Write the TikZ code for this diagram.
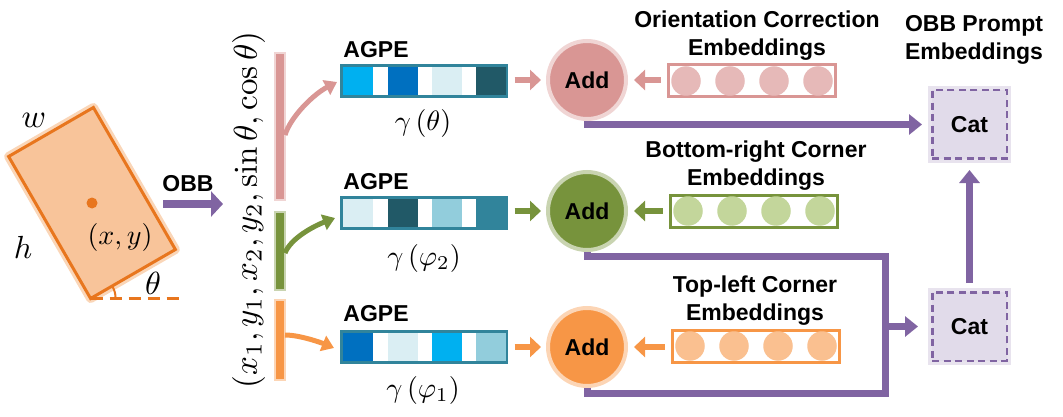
\documentclass[tikz,border=0pt]{standalone}
\usepackage{graphicx}
\usepackage[no-math]{fontspec}
\setmainfont{Liberation Sans}
\usetikzlibrary{arrows.meta}
\definecolor{pk}{HTML}{D99694}
\definecolor{pkl}{HTML}{E6B9B8}
\definecolor{gr}{HTML}{77933C}
\definecolor{grl}{HTML}{C3D69B}
\definecolor{orr}{HTML}{F79646}
\definecolor{orl}{HTML}{FAC090}
\definecolor{pu}{HTML}{8064A2}
\definecolor{pul}{HTML}{E1DBEA}
\definecolor{boxo}{HTML}{E8761E}
\definecolor{boxf}{HTML}{F8C49A}
\definecolor{ca}{HTML}{00B0F0}
\definecolor{cb}{HTML}{0070C0}
\definecolor{cc}{HTML}{DAEEF3}
\definecolor{cd}{HTML}{215967}
\definecolor{ce}{HTML}{92CDDC}
\definecolor{cf}{HTML}{31849B}
\begin{document}
\begin{tikzpicture}[x=1pt,y=-1pt,
  lbl/.style={font=\fontsize{23}{28}\selectfont\bfseries, align=center, inner sep=0pt},
  mlbl/.style={inner sep=0pt, font=\fontsize{10}{12}\selectfont},
  addnode/.style={circle, fill=#1, draw=#1!40, line width=4pt, minimum size=78pt, inner sep=0pt, font=\fontsize{23}{25}\selectfont\bfseries},
  catnode/.style={draw=pu, dash pattern=on 7pt off 4.5pt, line width=2.5pt, fill=pul,
     preaction={draw=pu!18, line width=8pt, solid},
     minimum width=74.5pt, minimum height=68.5pt, inner sep=0pt, font=\fontsize{23}{25}\selectfont\bfseries},
  agpe/.style={draw=cf, fill=white, line width=3pt, minimum width=165pt, minimum height=31pt, inner sep=0pt},
  cell/.style={fill=#1, minimum width=30pt, minimum height=27.5pt, inner sep=0pt},
  embbox/.style={draw=#1, fill=white, line width=3pt, minimum width=167pt, minimum height=32pt, inner sep=0pt},
  dotc/.style={circle, fill=#1, minimum size=29.5pt, inner sep=0pt},
  bar/.style={fill=#1, draw=#1!40, line width=2.5pt, minimum width=10pt, inner sep=0pt},
  pline/.style={line width=7pt, draw=pu, line join=miter},
  parr/.style={line width=7pt, draw=pu, -{Triangle[length=13pt,width=20pt]}},
  sarr/.style={line width=6pt, draw=#1, -{Triangle[length=11pt,width=20pt]}},
  carr/.style={line width=5pt, draw=#1, -{Triangle[length=12pt,width=16pt]}}
]
\useasboundingbox (0,0) rectangle (1063,417);

% oriented box
\draw[boxf!70, line width=9pt, line join=round] (8.6,156.5) -- (93.4,107.5) -- (175.4,249.5) -- (90.6,298.5) -- cycle;
\filldraw[fill=boxf, draw=boxo, line width=3pt, line join=miter] (8.6,156.5) -- (93.4,107.5) -- (175.4,249.5) -- (90.6,298.5) -- cycle;
\coordinate (rb) at (90.6,298.5);
\coordinate (re) at (180,298.5);
\draw[boxo, line width=2.5pt, dash pattern=on 12pt off 7pt] (rb) -- (re);
\draw[boxo, line width=2pt] (115.6,298.5) .. controls (115.6,294.1) and (114.45,289.8) .. (112.25,286);
\node[circle, fill=boxo, minimum size=11pt, inner sep=0pt] (ctr) at (92,203) {};
\node[mlbl] (lw) at (34,120) {\scalebox{3.3}{$w$}};
\node[mlbl] (lh) at (23,247) {\scalebox{3.2}{$h$}};
\node[mlbl] (lt) at (153,283) {\scalebox{3.2}{$\theta$}};
\node[mlbl] (lxy) at (120,237) {\scalebox{2.8}{$(x,y)$}};

% OBB arrow
\node[lbl] (obbl) at (188,183.5) {OBB};
\coordinate (obbs) at (163,204);
\coordinate (obbe) at (223,204);
\draw[line width=8pt, pu, -{Triangle[length=12pt,width=25pt]}] (obbs) -- (obbe);

% tuple
\node[mlbl, rotate=90] (tup) at (248.5,210)
  {\scalebox{3.3}{$\left(x_1, y_1, x_2, y_2, \sin\theta, \cos\theta\right)$}};

% bars
\node[bar=pk, minimum height=147pt] (barP) at (280,126.5) {};
\node[bar=gr, minimum height=78pt] (barG) at (280,251) {};
\node[bar=orr, minimum height=80pt] (barO) at (280,340) {};

% AGPE boxes
\node[agpe] (ag1) at (424,81) {};
\node[cell=ca] (a11) at (358,81) {};
\node[cell=cb] (a12) at (402.5,81) {};
\node[cell=cc] (a13) at (446.5,81) {};
\node[cell=cd] (a14) at (491,81) {};
\node[agpe] (ag2) at (424,213) {};
\node[cell=cc] (a21) at (358,213) {};
\node[cell=cd] (a22) at (402.5,213) {};
\node[cell=ce] (a23) at (446.5,213) {};
\node[cell=cf] (a24) at (491,213) {};
\node[agpe] (ag3) at (424,347) {};
\node[cell=cb] (a31) at (358,347) {};
\node[cell=cc] (a32) at (402.5,347) {};
\node[cell=ca] (a33) at (446.5,347) {};
\node[cell=ce] (a34) at (491,347) {};

\node[lbl] (agl1) at (376,49.5) {AGPE};
\node[lbl] (agl2) at (376,181.5) {AGPE};
\node[lbl] (agl3) at (376,314) {AGPE};
\node[mlbl] (g1) at (423,124) {\scalebox{2.8}{$\gamma\left(\theta\right)$}};
\node[mlbl] (g2) at (424,258) {\scalebox{2.8}{$\gamma\left(\varphi_2\right)$}};
\node[mlbl] (g3) at (423,390) {\scalebox{2.8}{$\gamma\left(\varphi_1\right)$}};

% curved arrows from bars
\coordinate (pS) at (285,135);
\coordinate (pT) at (337,82);
\coordinate (gS) at (285,253);
\coordinate (gT) at (335,218);
\coordinate (oS) at (285,335);
\coordinate (oT) at (334,348);
\draw[carr=pk] (pS) .. controls (291,116) and (314,94) .. (pT);
\draw[carr=gr] (gS) .. controls (291,238) and (314,226) .. (gT);
\draw[carr=orr] (oS) .. controls (300,335) and (322,343) .. (oT);

% Add nodes
\node[addnode=pk] (add1) at (587,80) {Add};
\node[addnode=gr] (add2) at (587,211) {Add};
\node[addnode=orr] (add3) at (587,347) {Add};

% embeddings
\node[embbox=pk] (em1) at (752,81) {};
\foreach \i/\dx in {1/-66,2/-22,3/22,4/66} \node[dotc=pkl] (e1\i) at (752+\dx,81) {};
\node[embbox=gr] (em2) at (754,211) {};
\foreach \i/\dx in {1/-66,2/-22,3/22,4/66} \node[dotc=grl] (e2\i) at (754+\dx,211) {};
\node[embbox=orr] (em3) at (756,346) {};
\foreach \i/\dx in {1/-66,2/-22,3/22,4/66} \node[dotc=orl] (e3\i) at (756+\dx,346) {};

\node[lbl, anchor=north] (el1) at (757,11) {Orientation Correction\\Embeddings};
\node[lbl, anchor=north] (el2) at (756,141) {Bottom-right Corner\\Embeddings};
\node[lbl, anchor=north] (el3) at (755,276) {Top-left Corner\\Embeddings};
\node[lbl, anchor=north] (el4) at (974,15) {OBB Prompt\\Embeddings};

% small arrows
\draw[sarr=pk, shorten <=6.5pt, shorten >=5pt] (ag1.east |- add1) -- (add1.west);
\draw[sarr=gr, shorten <=6.5pt, shorten >=5pt] (ag2.east |- add2) -- (add2.west);
\draw[sarr=orr, shorten <=6.5pt, shorten >=5pt] (ag3.east |- add3) -- (add3.west);
\draw[sarr=pk, shorten <=6.5pt, shorten >=6pt] (em1.west |- add1) -- (add1.east);
\draw[sarr=gr, shorten <=6.5pt, shorten >=6pt] (em2.west |- add2) -- (add2.east);
\draw[sarr=orr, shorten <=6.5pt, shorten >=6pt] (em3.west |- add3) -- (add3.east);

% Cat nodes
\node[catnode] (cat1) at (969.5,124.5) {Cat};
\node[catnode] (cat2) at (969.5,326.5) {Cat};

% purple connectors
\coordinate (m1) at (885,256);
\coordinate (m2) at (885,393);
\coordinate (mj) at (885,326.5);
\draw[parr, shorten >=9pt] (add1.south) |- (cat1.west);
\draw[parr, shorten <=8pt, shorten >=10pt] (cat2.north) -- (cat1.south);
\draw[pline] (add2.south) |- (m1) -- (m2) -| (add3.south);
\draw[parr, shorten >=13pt] (mj) -- (cat2.west);
\end{tikzpicture}
\end{document}
